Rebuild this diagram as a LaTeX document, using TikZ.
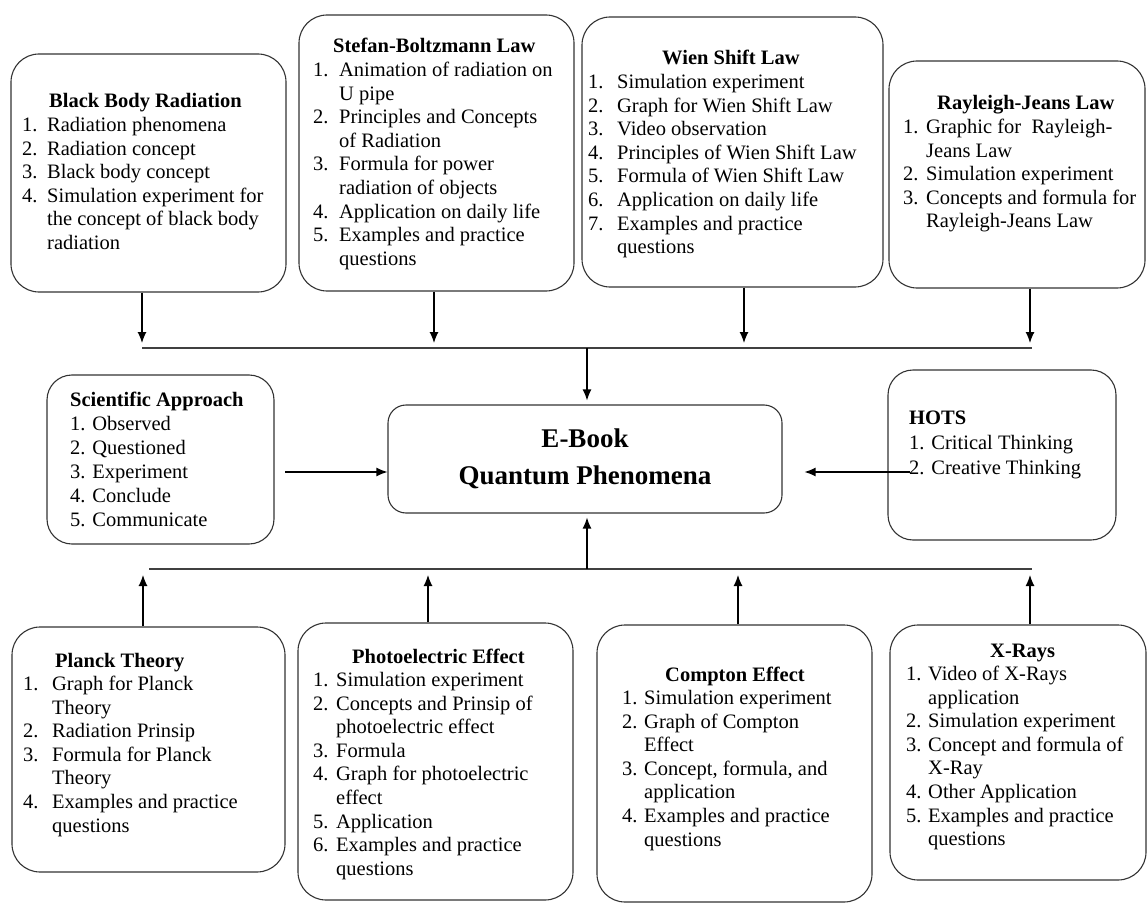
\documentclass[tikz,border=0pt]{standalone}
\usepackage{fontspec}
\setmainfont{Liberation Serif}
\usetikzlibrary{arrows.meta}
\newlength\numw
\newcommand{\itm}[2]{\par\hangindent=\numw\hangafter=1\noindent\makebox[\numw][l]{#1.}#2}
\tikzset{
  box/.style={draw=black!80, line width=1.1pt, rounded corners=28pt, fill=none, inner sep=0pt},
  cbox/.style={draw=black!80, line width=1.1pt, rounded corners=18pt, inner sep=0pt, align=center,
    minimum width=394pt, minimum height=108pt, font=\fontsize{27}{37}\selectfont\bfseries},
  ttl/.style={inner sep=0pt, anchor=base west, font=\fontsize{20.5}{23.6}\selectfont\bfseries},
  lst/.style={inner sep=0pt, anchor=base west, font=\fontsize{20.5}{23.6}\selectfont},
  arr/.style={line width=1.2pt, black, -{Latex[length=11pt,width=9pt]}},
  bar/.style={line width=1.4pt, black!75},
}
\begin{document}
\begin{tikzpicture}[x=1pt,y=-1pt]
\useasboundingbox (0,0) rectangle (1148,904);
% ---- top row boxes
\node[box, minimum width=275pt, minimum height=238pt] (bbr) at (148.5,173) {};
\node[box, minimum width=275pt, minimum height=276pt] (sb) at (436.5,153) {};
\node[box, minimum width=301pt, minimum height=270pt] (wien) at (732.5,152) {};
\node[box, minimum width=256pt, minimum height=227pt] (ray) at (1017,174.5) {};
% ---- middle row
\node[box, rounded corners=25pt, minimum width=227pt, minimum height=169pt] (sa) at (160.5,459.5) {};
\node[cbox] (center) at (585,459) {E-Book\\Quantum Phenomena};
\node[box, rounded corners=25pt, minimum width=228pt, minimum height=170pt] (hots) at (1002,455) {};
% ---- bottom row
\node[box, minimum width=273pt, minimum height=245pt] (planck) at (148.5,749.5) {};
\node[box, minimum width=275pt, minimum height=277pt] (photo) at (435.5,761.5) {};
\node[box, minimum width=275pt, minimum height=277pt] (compton) at (734.5,763.5) {};
\node[box, minimum width=256pt, minimum height=255pt] (xray) at (1018,752.5) {};

% ---- texts
\node[ttl] (bbrH) at (49,108) {Black Body Radiation};
\node[lst] (bbrL) at (22,131.5) {\parbox[t]{320pt}{\numw=25pt
\itm{1}{Radiation phenomena}
\itm{2}{Radiation concept}
\itm{3}{Black body concept}
\itm{4}{Simulation experiment for\newline the concept of black body\newline radiation}}};

\node[ttl] (sbH) at (333,53) {Stefan-Boltzmann Law};
\node[lst] (sbL) at (313,76.5) {\parbox[t]{320pt}{\numw=26pt
\itm{1}{Animation of radiation on\newline U pipe}
\itm{2}{Principles and Concepts\newline of Radiation}
\itm{3}{Formula for power\newline radiation of objects}
\itm{4}{Application on daily life}
\itm{5}{Examples and practice\newline questions}}};

\node[ttl] (wienH) at (662,65) {Wien Shift Law};
\node[lst] (wienL) at (588,88.5) {\parbox[t]{320pt}{\numw=29pt
\itm{1}{Simulation experiment}
\itm{2}{Graph for Wien Shift Law}
\itm{3}{Video observation}
\itm{4}{Principles of Wien Shift Law}
\itm{5}{Formula of Wien Shift Law}
\itm{6}{Application on daily life}
\itm{7}{Examples and practice\newline questions}}};

\node[ttl] (rayH) at (937,110) {Rayleigh-Jeans Law};
\node[lst] (rayL) at (903,133.5) {\parbox[t]{320pt}{\numw=23pt
\itm{1}{Graphic for\ \ Rayleigh-\newline Jeans Law}
\itm{2}{Simulation experiment}
\itm{3}{Concepts and formula for\newline Rayleigh-Jeans Law}}};

\node[lst] (saL) at (70,406) {\parbox[t]{220pt}{\baselineskip=24pt
\textbf{Scientific Approach}\newline 1. Observed\newline 2. Questioned\newline 3. Experiment\newline 4. Conclude\newline 5. Communicate}};

\node[lst] (hotsL) at (909,424) {\parbox[t]{220pt}{\baselineskip=25pt
\textbf{HOTS}\newline 1. Critical Thinking\newline 2. Creative Thinking}};

\node[ttl] (planckH) at (55,667) {Planck Theory};
\node[lst] (planckL) at (23,690.5) {\parbox[t]{320pt}{\numw=29pt
\itm{1}{Graph for Planck\newline Theory}
\itm{2}{Radiation Prinsip}
\itm{3}{Formula for Planck\newline Theory}
\itm{4}{Examples and practice\newline questions}}};

\node[ttl] (photoH) at (352,663) {Photoelectric Effect};
\node[lst] (photoL) at (313,686.5) {\parbox[t]{320pt}{\numw=23pt
\itm{1}{Simulation experiment}
\itm{2}{Concepts and Prinsip of\newline photoelectric effect}
\itm{3}{Formula}
\itm{4}{Graph for photoelectric\newline effect}
\itm{5}{Application}
\itm{6}{Examples and practice\newline questions}}};

\node[ttl] (comptonH) at (665,681) {Compton Effect};
\node[lst] (comptonL) at (622,704.5) {\parbox[t]{320pt}{\numw=22pt
\itm{1}{Simulation experiment}
\itm{2}{Graph of Compton\newline Effect}
\itm{3}{Concept, formula, and\newline application}
\itm{4}{Examples and practice\newline questions}}};

\node[ttl] (xrayH) at (990,657) {X-Rays};
\node[lst] (xrayL) at (906,680.5) {\parbox[t]{320pt}{\numw=22pt
\itm{1}{Video of X-Rays\newline application}
\itm{2}{Simulation experiment}
\itm{3}{Concept and formula of\newline X-Ray}
\itm{4}{Other Application}
\itm{5}{Examples and practice\newline questions}}};

% ---- connector coordinates
\coordinate (d1) at (142,343);
\coordinate (d2) at (434,343);
\coordinate (d3) at (744,343);
\coordinate (d4) at (1030,343);
\coordinate (hl) at (142,348);
\coordinate (hr) at (1032,348);
\coordinate (hm) at (587,348);
\coordinate (u1) at (143,575);
\coordinate (u2) at (428,575);
\coordinate (u3) at (738,575);
\coordinate (u4) at (1030,575);
\coordinate (bl) at (149,569);
\coordinate (br) at (1032,569);
\coordinate (bm) at (587,569);
\coordinate (sa1) at (285,472);
\coordinate (ho1) at (910,472);

% ---- top connectors
\draw[arr] (bbr.south -| d1) -- (d1);
\draw[arr] (sb.south -| d2) -- (d2);
\draw[arr] (wien.south -| d3) -- (d3);
\draw[arr] (ray.south -| d4) -- (d4);
\draw[bar] (hl) -- (hr);
\draw[arr, shorten >=4pt] (hm) -- (hm |- center.north);
% ---- side connectors
\draw[arr] (sa1) -- (sa1 -| center.west);
\draw[arr, shorten >=22pt] (ho1) -- (ho1 -| center.east);
% ---- bottom connectors
\draw[arr] (planck.north -| u1) -- (u1);
\draw[arr] (photo.north -| u2) -- (u2);
\draw[arr] (compton.north -| u3) -- (u3);
\draw[arr] (xray.north -| u4) -- (u4);
\draw[bar] (bl) -- (br);
\draw[arr, shorten >=4pt] (bm) -- (bm |- center.south);
\end{tikzpicture}
\end{document}
